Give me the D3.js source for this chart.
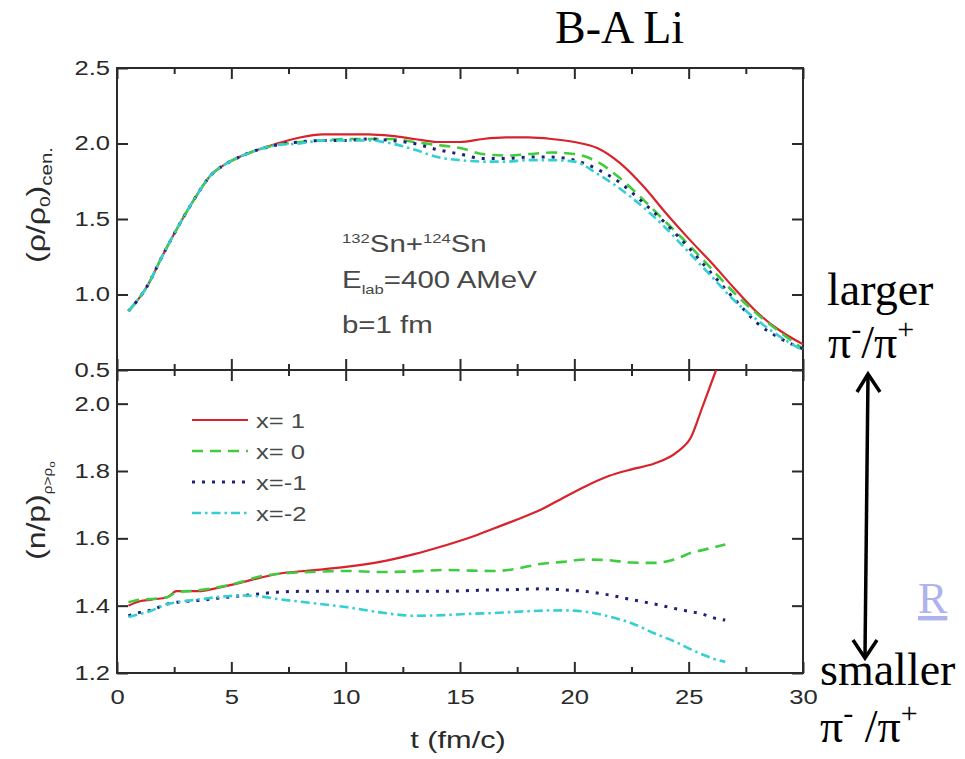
<!DOCTYPE html>
<html>
<head>
<meta charset="utf-8">
<script src="https://cdn.jsdelivr.net/npm/d3@7"></script>
<style>
  body { margin: 0; background: #fff; }
  svg { display: block; }
</style>
</head>
<body>
<svg id="chart" width="965" height="759"></svg>
<script>
// ---- data -------------------------------------------------------------
// Upper panel: central density (rho/rho0) vs time t (fm/c)
const tDensity = [0.5, 1.3, 2.0, 2.75, 3.5, 4.1, 4.6, 5.2, 6.0, 7.0, 8.0, 9.0, 10.0, 11.0, 12.0, 13.0, 14.0, 15.0,
                  16.0, 17.0, 18.0, 19.0, 20.0, 21.0, 22.0, 23.0, 24.0, 25.0, 26.0, 27.0, 28.0, 29.0, 30.0];
const densityX1  = [0.89, 1.05, 1.26, 1.47, 1.66, 1.79, 1.85, 1.90, 1.95, 2.00, 2.04, 2.06, 2.06, 2.06, 2.05, 2.03, 2.01, 2.01,
                    2.03, 2.04, 2.04, 2.03, 2.01, 1.97, 1.87, 1.72, 1.54, 1.37, 1.21, 1.04, 0.88, 0.76, 0.67];
const densityX0  = [0.89, 1.05, 1.26, 1.47, 1.66, 1.79, 1.85, 1.90, 1.95, 1.99, 2.01, 2.02, 2.03, 2.03, 2.03, 2.01, 1.99, 1.97,
                    1.93, 1.92, 1.93, 1.94, 1.93, 1.88, 1.77, 1.63, 1.48, 1.33, 1.17, 1.01, 0.87, 0.75, 0.64];
const densityXm1 = [0.89, 1.05, 1.26, 1.47, 1.66, 1.79, 1.85, 1.90, 1.95, 1.99, 2.01, 2.02, 2.02, 2.03, 2.02, 2.00, 1.96, 1.93,
                    1.90, 1.90, 1.91, 1.91, 1.89, 1.83, 1.74, 1.61, 1.47, 1.31, 1.14, 0.97, 0.81, 0.71, 0.64];
const densityXm2 = [0.89, 1.05, 1.26, 1.47, 1.66, 1.79, 1.85, 1.90, 1.95, 1.99, 2.00, 2.02, 2.02, 2.02, 2.00, 1.96, 1.91, 1.89,
                    1.88, 1.88, 1.89, 1.89, 1.88, 1.80, 1.70, 1.58, 1.44, 1.28, 1.12, 0.96, 0.83, 0.72, 0.63];

// Lower panel: n/p ratio of the dense region (rho > rho0) vs time
const tRatio = [0.5, 1.0, 1.5, 2.2, 2.6, 3.5, 4.8, 5.5, 6.2, 7.0, 8.5, 10.0, 11.5, 13.0, 14.3, 15.5, 16.5,
                17.5, 18.5, 19.5, 20.5, 21.5, 22.5, 23.5, 24.5, 25.1, 25.6, 26.2, 26.6];
const ratioX1  = [1.400, 1.413, 1.418, 1.425, 1.443, 1.443, 1.459, 1.470, 1.482, 1.494, 1.505, 1.515, 1.530, 1.553, 1.578, 1.604, 1.630,
                  1.656, 1.684, 1.720, 1.755, 1.785, 1.805, 1.822, 1.857, 1.900, 1.990, 2.100, null];
const ratioX0  = [1.410, 1.418, 1.420, 1.425, 1.440, 1.445, 1.460, 1.472, 1.486, 1.494, 1.500, 1.503, 1.500, 1.502, 1.506, 1.504, 1.503,
                  1.510, 1.524, 1.530, 1.537, 1.535, 1.528, 1.527, 1.540, 1.557, 1.565, 1.575, 1.582];
const ratioXm1 = [1.370, 1.380, 1.387, 1.405, 1.410, 1.415, 1.425, 1.430, 1.435, 1.440, 1.443, 1.443, 1.443, 1.443, 1.443, 1.445, 1.447,
                  1.448, 1.450, 1.447, 1.442, 1.432, 1.418, 1.405, 1.390, 1.382, 1.375, 1.362, 1.357];
const ratioXm2 = [1.366, 1.375, 1.385, 1.405, 1.410, 1.418, 1.428, 1.430, 1.428, 1.420, 1.408, 1.396, 1.380, 1.370, 1.372, 1.376, 1.378,
                  1.382, 1.385, 1.386, 1.382, 1.368, 1.348, 1.318, 1.290, 1.270, 1.255, 1.240, 1.233];

const seriesLabels = ["x= 1", "x= 0", "x=-1", "x=-2"];
const xMajorTicks = [0, 5, 10, 15, 20, 25, 30];
const xMinorTicks = [2.5, 7.5, 12.5, 17.5, 22.5, 27.5];
const densityTicks = [0.5, 1.0, 1.5, 2.0, 2.5];
const ratioTicks = [1.2, 1.4, 1.6, 1.8, 2.0];

// ---- styling ----------------------------------------------------------
const styles = [
  { color: "#d8232c", dash: null,          width: 2.2 },
  { color: "#3fcc3f", dash: "11,7",        width: 2.6 },
  { color: "#20207c", dash: "3,7",         width: 3.0 },
  { color: "#33cfd2", dash: "9,4,2.5,4",   width: 2.6 }
];
const SANS = "'Liberation Sans', Arial, Helvetica, sans-serif";
const SERIF = "'Liberation Serif', 'Times New Roman', Times, serif";
const WIDE = 1.28;          // the plot lettering is a wide grotesque
const INK = "#2a2a2a";
const NOTE = "#484848";

const svg = d3.select("#chart");

const x = d3.scaleLinear().domain([0, 30]).range([117, 803]);
const yTop = d3.scaleLinear().domain([0.5, 2.5]).range([370, 68]);
const yBot = d3.scaleLinear().domain([1.2, 2.1]).range([673, 370]);

// ---- axes & ticks -----------------------------------------------------
function styleAxis(g) {
  g.select(".domain").remove();
  g.selectAll(".tick line").attr("stroke", INK).attr("stroke-width", 2);
  g.selectAll(".tick text").attr("fill", INK).attr("font-family", SANS);
}
function widen(g, xOff) {
  g.selectAll(".tick text").each(function () {
    const t = d3.select(this);
    if (xOff !== undefined) t.attr("x", xOff / WIDE);
    t.attr("transform", `scale(${WIDE},1)`);
  });
}

const noLabel = () => "";

// horizontal axes (ticks only) on the top edge and the shared middle line
[[68, -11, -6, d3.axisTop], [370, 11, 6, d3.axisTop], [370, 11, 6, d3.axisBottom]].forEach(([yy, big, small, fn]) => {
  svg.append("g").attr("transform", `translate(0,${yy})`)
    .call(fn(x).tickValues(xMajorTicks).tickSize(big).tickFormat(noLabel)).call(styleAxis);
  svg.append("g").attr("transform", `translate(0,${yy})`)
    .call(fn(x).tickValues(xMinorTicks).tickSize(small).tickFormat(noLabel)).call(styleAxis);
});

// bottom axis with labels
const gxb = svg.append("g").attr("transform", "translate(0,673)")
  .call(d3.axisBottom(x).tickValues(xMajorTicks).tickSize(-11).tickPadding(17).tickFormat(d3.format("d")))
  .call(styleAxis);
gxb.selectAll(".tick text").attr("font-size", 20);
widen(gxb);
svg.append("g").attr("transform", "translate(0,673)")
  .call(d3.axisBottom(x).tickValues(xMinorTicks).tickSize(-6).tickFormat(noLabel)).call(styleAxis);

// left axes with labels
const gyt = svg.append("g").attr("transform", "translate(117,0)")
  .call(d3.axisLeft(yTop).tickValues(densityTicks).tickSize(-11).tickFormat(d3.format(".1f")))
  .call(styleAxis);
gyt.selectAll(".tick text").attr("font-size", 20);
widen(gyt, -7);

const gyb = svg.append("g").attr("transform", "translate(117,0)")
  .call(d3.axisLeft(yBot).tickValues(ratioTicks).tickSize(-11).tickFormat(d3.format(".1f")))
  .call(styleAxis);
gyb.selectAll(".tick text").attr("font-size", 20);
widen(gyb, -7);

// right axes (ticks only)
svg.append("g").attr("transform", "translate(803,0)")
  .call(d3.axisRight(yTop).tickValues(densityTicks).tickSize(-11).tickFormat(noLabel)).call(styleAxis);
svg.append("g").attr("transform", "translate(803,0)")
  .call(d3.axisRight(yBot).tickValues(ratioTicks).tickSize(-11).tickFormat(noLabel)).call(styleAxis);

// frames
svg.append("rect").attr("x", x(0)).attr("y", yTop(2.5))
  .attr("width", x(30) - x(0)).attr("height", yBot(1.2) - yTop(2.5))
  .attr("fill", "none").attr("stroke", INK).attr("stroke-width", 2);
svg.append("line").attr("x1", x(0)).attr("x2", x(30)).attr("y1", yTop(0.5)).attr("y2", yTop(0.5))
  .attr("stroke", INK).attr("stroke-width", 2);

// ---- curves -----------------------------------------------------------
function drawSeries(times, values, yScale, st) {
  const pts = times.map((t, i) => ({ t, v: values[i] }));
  const line = d3.line()
    .defined(d => d.v !== null)
    .x(d => x(d.t)).y(d => yScale(d.v))
    .curve(d3.curveMonotoneX);
  svg.append("path").datum(pts)
    .attr("d", line)
    .attr("fill", "none")
    .attr("stroke", st.color)
    .attr("stroke-width", st.width)
    .attr("stroke-dasharray", st.dash)
    .attr("stroke-linejoin", "round");
}
[densityX1, densityX0, densityXm1, densityXm2].forEach((vals, i) => drawSeries(tDensity, vals, yTop, styles[i]));
[ratioX1, ratioX0, ratioXm1, ratioXm2].forEach((vals, i) => drawSeries(tRatio, vals, yBot, styles[i]));

// ---- legend -----------------------------------------------------------
seriesLabels.forEach((lab, i) => {
  const yy = 420 + i * 31;
  svg.append("line").attr("x1", 192).attr("x2", 248).attr("y1", yy).attr("y2", yy)
    .attr("stroke", styles[i].color).attr("stroke-width", styles[i].width)
    .attr("stroke-dasharray", styles[i].dash);
  svg.append("text").attr("transform", `translate(256,${yy + 8}) scale(${WIDE},1)`)
    .attr("font-family", SANS).attr("font-size", 20).attr("fill", NOTE).text(lab);
});

// ---- plot lettering ---------------------------------------------------
function wideText(x0, y0, size, rotate, fill) {
  const rot = rotate ? " rotate(-90)" : "";
  return svg.append("text")
    .attr("transform", `translate(${x0},${y0})${rot} scale(${WIDE},1)`)
    .attr("font-family", SANS).attr("font-size", size).attr("fill", fill || INK);
}

// reaction system
const r1 = wideText(342, 252, 23, false, NOTE);
r1.append("tspan").attr("font-size", 13).attr("dy", -9).text("132");
r1.append("tspan").attr("dy", 9).text("Sn+");
r1.append("tspan").attr("font-size", 13).attr("dy", -9).text("124");
r1.append("tspan").attr("dy", 9).text("Sn");
const r2 = wideText(342, 288, 23, false, NOTE);
r2.append("tspan").text("E");
r2.append("tspan").attr("font-size", 13).attr("dy", 6).text("lab");
r2.append("tspan").attr("dy", -6).text("=400 AMeV");
wideText(342, 333, 23, false, NOTE).text("b=1 fm");

// axis titles
wideText(458, 748, 24).attr("text-anchor", "middle").text("t (fm/c)");

const yt1 = wideText(45, 263, 25, true);
yt1.append("tspan").text("(ρ/ρ");
yt1.append("tspan").attr("font-size", 15).attr("dy", 5).text("0");
yt1.append("tspan").attr("dy", -5).text(")");
yt1.append("tspan").attr("font-size", 16).attr("dy", 7).text("cen.");

const yt2 = wideText(45, 560, 25, true);
yt2.append("tspan").text("(n/p)");
yt2.append("tspan").attr("font-size", 12).attr("dy", 7).text("ρ>ρ");
yt2.append("tspan").attr("font-size", 9).attr("dy", 3).text("o");

// ---- slide annotations ------------------------------------------------
function serif(x0, y0, size) {
  return svg.append("text").attr("x", x0).attr("y", y0)
    .attr("font-family", SERIF).attr("font-size", size).attr("fill", "#000");
}
serif(555, 43, 46).text("B-A Li");
serif(827, 305, 46).text("larger");
const p1 = serif(828, 358, 46);
p1.append("tspan").text("π");
p1.append("tspan").attr("font-size", 30).attr("dy", -19).text("-");
p1.append("tspan").attr("dy", 19).text("/π");
p1.append("tspan").attr("font-size", 30).attr("dy", -19).text("+");

serif(820, 685, 46).text("smaller");
const p2 = serif(820, 742, 46);
p2.append("tspan").text("π");
p2.append("tspan").attr("font-size", 30).attr("dy", -19).text("-");
p2.append("tspan").attr("dy", 19).text(" /π");
p2.append("tspan").attr("font-size", 30).attr("dy", -19).text("+");

serif(918, 613, 44).attr("fill", "#aeb2ee").attr("text-decoration", "underline").text("R");

// double-headed arrow
svg.append("line").attr("x1", 868).attr("y1", 376).attr("x2", 865).attr("y2", 655)
  .attr("stroke", "#000").attr("stroke-width", 3.5);
svg.append("polyline").attr("points", "857,392 868,374 880,392")
  .attr("fill", "none").attr("stroke", "#000").attr("stroke-width", 3.5);
svg.append("polyline").attr("points", "853,640 865,658 877,640")
  .attr("fill", "none").attr("stroke", "#000").attr("stroke-width", 3.5);
</script>
</body>
</html>
